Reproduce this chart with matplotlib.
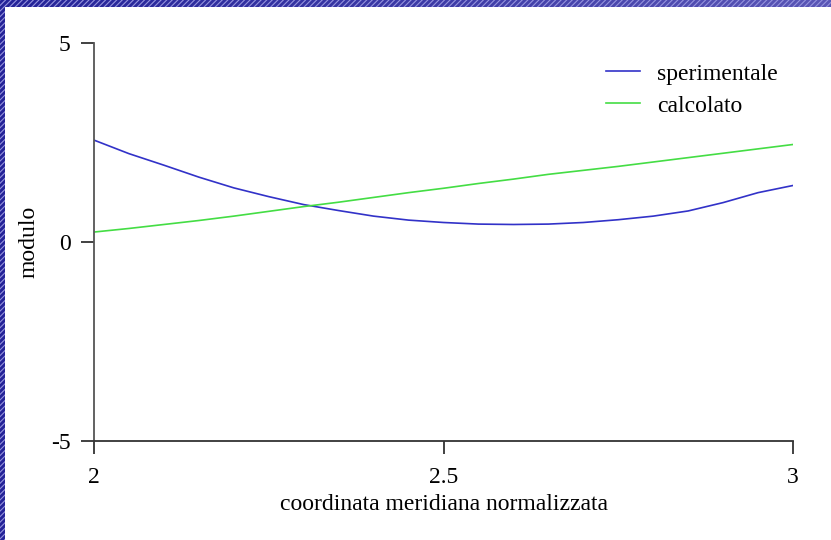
import numpy as np
import matplotlib
matplotlib.use("Agg")
import matplotlib.pyplot as plt
from matplotlib.patches import Rectangle
from matplotlib.colors import LinearSegmentedColormap

# ---- data ----
x_vals = [2.00, 2.05, 2.10, 2.15, 2.20, 2.25, 2.30, 2.35, 2.40, 2.45, 2.50,
          2.55, 2.60, 2.65, 2.70, 2.75, 2.80, 2.85, 2.90, 2.95, 3.00]
sperimentale = [2.56, 2.22, 1.93, 1.63, 1.36, 1.14, 0.94, 0.79, 0.65, 0.55, 0.49,
                0.45, 0.44, 0.45, 0.49, 0.56, 0.65, 0.78, 0.99, 1.24, 1.42]
calcolato = [0.25, 0.34, 0.44, 0.54, 0.65, 0.77, 0.89, 1.00, 1.12, 1.24, 1.35,
             1.47, 1.58, 1.70, 1.80, 1.90, 2.01, 2.12, 2.23, 2.34, 2.45]
x_ticks = [2, 2.5, 3]
x_ticklabels = ["2", "2.5", "3"]
y_ticks = [-5, 0, 5]
y_ticklabels = ["-5", "0", "5"]
labels = ["sperimentale", "calcolato"]

plt.rcParams['font.family'] = ['Liberation Serif', 'DejaVu Serif']
plt.rcParams['hatch.linewidth'] = 0.8
plt.rcParams['hatch.color'] = '#9694de'

W, H = 831, 540
FS = 17
fig = plt.figure(figsize=(W / 100, H / 100), dpi=100)

# background slide
bg = fig.add_axes([0, 0, 1, 1], zorder=-10)
bg.set_axis_off()
grad = np.linspace(0, 1, 256).reshape(1, -1)
cmap = LinearSegmentedColormap.from_list("bgc", ["#242398", "#3c3aa6", "#5a56b6"])
bg.imshow(grad, aspect='auto', cmap=cmap, extent=[0, 1, 0, 1])
bg.add_patch(Rectangle((0, 0), 1, 1, transform=bg.transAxes, facecolor='none',
                       edgecolor='#9694de', hatch='//////', linewidth=0))
bg.add_patch(Rectangle((5 / W, 0), 1, 1 - 7 / H, transform=bg.transAxes,
                       facecolor='white', edgecolor='none', zorder=5))
bg.set_xlim(0, 1)
bg.set_ylim(0, 1)

ax = fig.add_axes([94 / W, 1 - 441 / H, (793 - 94) / W, (441 - 43) / H])
ax.patch.set_alpha(0)
ax.plot(x_vals, sperimentale, color='#3232c8', lw=1.2, label=labels[0])
ax.plot(x_vals, calcolato, color='#44dd44', lw=1.2, label=labels[1])

ax.set_xlim(2, 3)
ax.set_ylim(-5, 5)
ax.set_xticks(x_ticks)
ax.set_xticklabels(x_ticklabels)
ax.set_yticks(y_ticks)
ax.set_yticklabels(y_ticklabels)
for s in ['top', 'right']:
    ax.spines[s].set_visible(False)
ax.spines['left'].set_color('#555555')
ax.spines['bottom'].set_color('#333333')
ax.spines['left'].set_linewidth(1.3)
ax.spines['bottom'].set_linewidth(1.3)
ax.tick_params(axis='both', direction='out', length=9.5, width=1.3, colors='#333333',
               labelsize=FS, labelcolor='black')
ax.tick_params(axis='x', pad=9.5)
ax.tick_params(axis='y', pad=7.5)

ax.set_xlabel("coordinata meridiana normalizzata", fontsize=FS, labelpad=4)
ax.set_ylabel("modulo", fontsize=FS, labelpad=8)

leg = fig.legend(loc='upper left', bbox_to_anchor=(606 / W, 1 - 63 / H), frameon=False,
                 fontsize=FS, handlelength=1.45, handletextpad=0.7, labelspacing=0.45,
                 borderpad=0, borderaxespad=0)

fig.savefig("out.png", dpi=100)
